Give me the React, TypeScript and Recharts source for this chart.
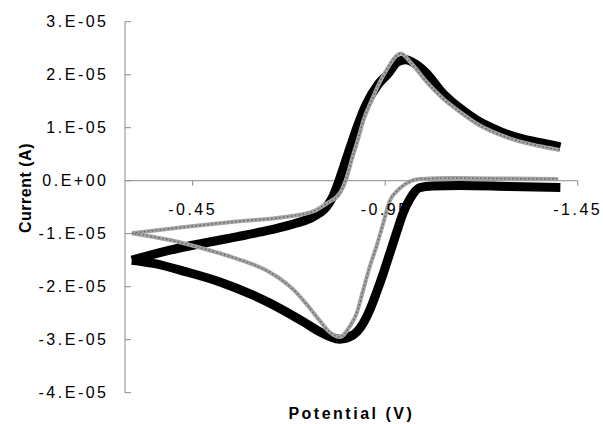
import { LineChart, Line, XAxis, YAxis, ReferenceLine, Label } from "recharts";

// potentials in V, currents in units of 1e-5 A
const blackFwdV = [-0.292, -0.391, -0.477, -0.564, -0.651, -0.72, -0.763, -0.798, -0.814, -0.83, -0.858, -0.879, -0.9, -0.931, -0.959, -0.982, -1.003, -1.029, -1.057, -1.1, -1.144, -1.187, -1.23, -1.273, -1.317, -1.36, -1.405];
const blackFwdI = [-1.5, -1.31, -1.18, -1.06, -0.93, -0.8, -0.68, -0.49, -0.3, 0.0, 0.61, 1.05, 1.43, 1.81, 2.03, 2.24, 2.28, 2.2, 2.03, 1.65, 1.37, 1.15, 0.99, 0.86, 0.77, 0.71, 0.64];

const blackRevV = [-1.405, -1.273, -1.144, -1.074, -1.04, -1.013, -0.996, -0.979, -0.962, -0.945, -0.927, -0.91, -0.893, -0.867, -0.832, -0.806, -0.78, -0.737, -0.677, -0.607, -0.521, -0.434, -0.348, -0.292];
const blackRevI = [-0.13, -0.11, -0.09, -0.1, -0.13, -0.36, -0.62, -0.99, -1.37, -1.75, -2.12, -2.44, -2.69, -2.91, -2.99, -2.94, -2.85, -2.66, -2.41, -2.16, -1.91, -1.72, -1.56, -1.5];

const grayFwdV = [-0.292, -0.434, -0.564, -0.694, -0.763, -0.798, -0.832, -0.848, -0.863, -0.879, -0.894, -0.915, -0.936, -0.957, -0.978, -0.99, -1.022, -1.057, -1.1, -1.144, -1.187, -1.23, -1.273, -1.317, -1.36, -1.403];
const grayFwdI = [-0.99, -0.87, -0.77, -0.68, -0.58, -0.43, -0.24, 0.01, 0.39, 0.77, 1.15, 1.52, 1.86, 2.13, 2.35, 2.4, 2.18, 1.87, 1.55, 1.3, 1.08, 0.92, 0.8, 0.71, 0.64, 0.58];

const grayRevV = [-1.398, -1.273, -1.125, -1.04, -1.005, -0.983, -0.962, -0.945, -0.927, -0.91, -0.893, -0.876, -0.858, -0.832, -0.806, -0.78, -0.746, -0.711, -0.677, -0.651, -0.61, -0.564, -0.477, -0.391, -0.292];
const grayRevI = [0.03, 0.04, 0.05, 0.03, -0.05, -0.18, -0.38, -0.8, -1.25, -1.62, -2.06, -2.5, -2.75, -2.95, -2.86, -2.64, -2.33, -2.05, -1.85, -1.73, -1.59, -1.47, -1.28, -1.12, -0.99];

const xTicks = [-0.45, -0.95, -1.45];
const yTicks = [-4e-5, -3e-5, -2e-5, -1e-5, 0, 1e-5, 2e-5, 3e-5];

const toRows = (v: number[], i: number[]) => v.map((p, k) => ({ v: p, i: i[k] * 1e-5 }));

const blackFwd = toRows(blackFwdV, blackFwdI);
const blackRev = toRows(blackRevV, blackRevI);
const grayFwd = toRows(grayFwdV, grayFwdI);
const grayRev = toRows(grayRevV, grayRevI);

const FONT = '"Liberation Sans", Arial, sans-serif';
const Y_MIN = -4e-5;
const Y_MAX = 3e-5;
const PLOT_H = 371;
const AXIS = "#8a8a8a";

const fmtY = (v: number) => {
  const n = Math.round(v * 1e5);
  return n === 0 ? "0.E+00" : `${n}.E-05`;
};

const YTick = ({ x, y, payload }: any) => (
  <g>
    <line x1={x} x2={x + 6} y1={y} y2={y} stroke={AXIS} />
    <text
      x={x - 16.5}
      y={y}
      dy="0.36em"
      textAnchor="end"
      fontSize={16}
      fill="#000"
      fontFamily={FONT}
      style={{ letterSpacing: "2.5px" }}
    >
      {fmtY(payload.value)}
    </text>
  </g>
);

const XTick = ({ x, y, payload }: any) => {
  // x axis crosses the value axis at zero
  const y0 = y - (PLOT_H * (0 - Y_MIN)) / (Y_MAX - Y_MIN);
  return (
    <g>
      <line x1={x} x2={x} y1={y0} y2={y0 + 5} stroke={AXIS} />
      <text
        x={x}
        y={y0 + 34}
        textAnchor="middle"
        fontSize={16}
        fill="#000"
        fontFamily={FONT}
        style={{ letterSpacing: "2.5px" }}
      >
        {String(payload.value)}
      </text>
    </g>
  );
};

const YTitle = () => (
  <text
    transform="translate(31, 188) rotate(-90)"
    textAnchor="middle"
    fontSize={16}
    fontWeight="bold"
    fill="#000"
    fontFamily={FONT}
    style={{ letterSpacing: "0.5px" }}
  >
    Current (A)
  </text>
);

const App = () => {
  return (
    <div style={{ position: "absolute", left: 0, top: 0, background: "#fff" }}>
      <LineChart
        width={603}
        height={424}
        margin={{ top: 21.7, right: 25.3, bottom: 1.3, left: 45 }}
      >
        <XAxis
          type="number"
          dataKey="v"
          domain={[-1.45, -0.2743]}
          reversed
          allowDataOverflow
          ticks={xTicks}
          height={30}
          axisLine={false}
          tickLine={false}
          tickSize={0}
          tickMargin={0}
          tick={<XTick />}
        >
          <Label
            value="Potential (V)"
            position="insideBottom"
            offset={4}
            style={{
              fontSize: 16,
              fontWeight: "bold",
              fill: "#000",
              fontFamily: FONT,
              letterSpacing: "2.5px",
            }}
          />
        </XAxis>
        <YAxis
          type="number"
          dataKey="i"
          domain={[Y_MIN, Y_MAX]}
          ticks={yTicks}
          width={80}
          axisLine={{ stroke: AXIS }}
          tickLine={false}
          tickSize={0}
          tickMargin={0}
          tick={<YTick />}
        >
          <Label content={<YTitle />} />
        </YAxis>
        <ReferenceLine y={0} stroke={AXIS} />
        <Line data={blackFwd} dataKey="i" type="monotone" stroke="#000" strokeWidth={9} strokeLinejoin="round" strokeLinecap="butt" dot={false} isAnimationActive={false} />
        <Line data={blackRev} dataKey="i" type="monotone" stroke="#000" strokeWidth={9} strokeLinejoin="round" strokeLinecap="butt" dot={false} isAnimationActive={false} />
        <Line data={grayFwd} dataKey="i" type="monotone" stroke="#a4a4a4" strokeWidth={4} strokeLinejoin="round" dot={false} isAnimationActive={false} />
        <Line data={grayRev} dataKey="i" type="monotone" stroke="#a4a4a4" strokeWidth={4} strokeLinejoin="round" dot={false} isAnimationActive={false} />
        <Line data={grayFwd} dataKey="i" type="monotone" stroke="#666" strokeWidth={1.5} strokeDasharray="1.5 2.5" dot={false} isAnimationActive={false} />
        <Line data={grayRev} dataKey="i" type="monotone" stroke="#666" strokeWidth={1.5} strokeDasharray="1.5 2.5" dot={false} isAnimationActive={false} />
      </LineChart>
    </div>
  );
};

export default App;
